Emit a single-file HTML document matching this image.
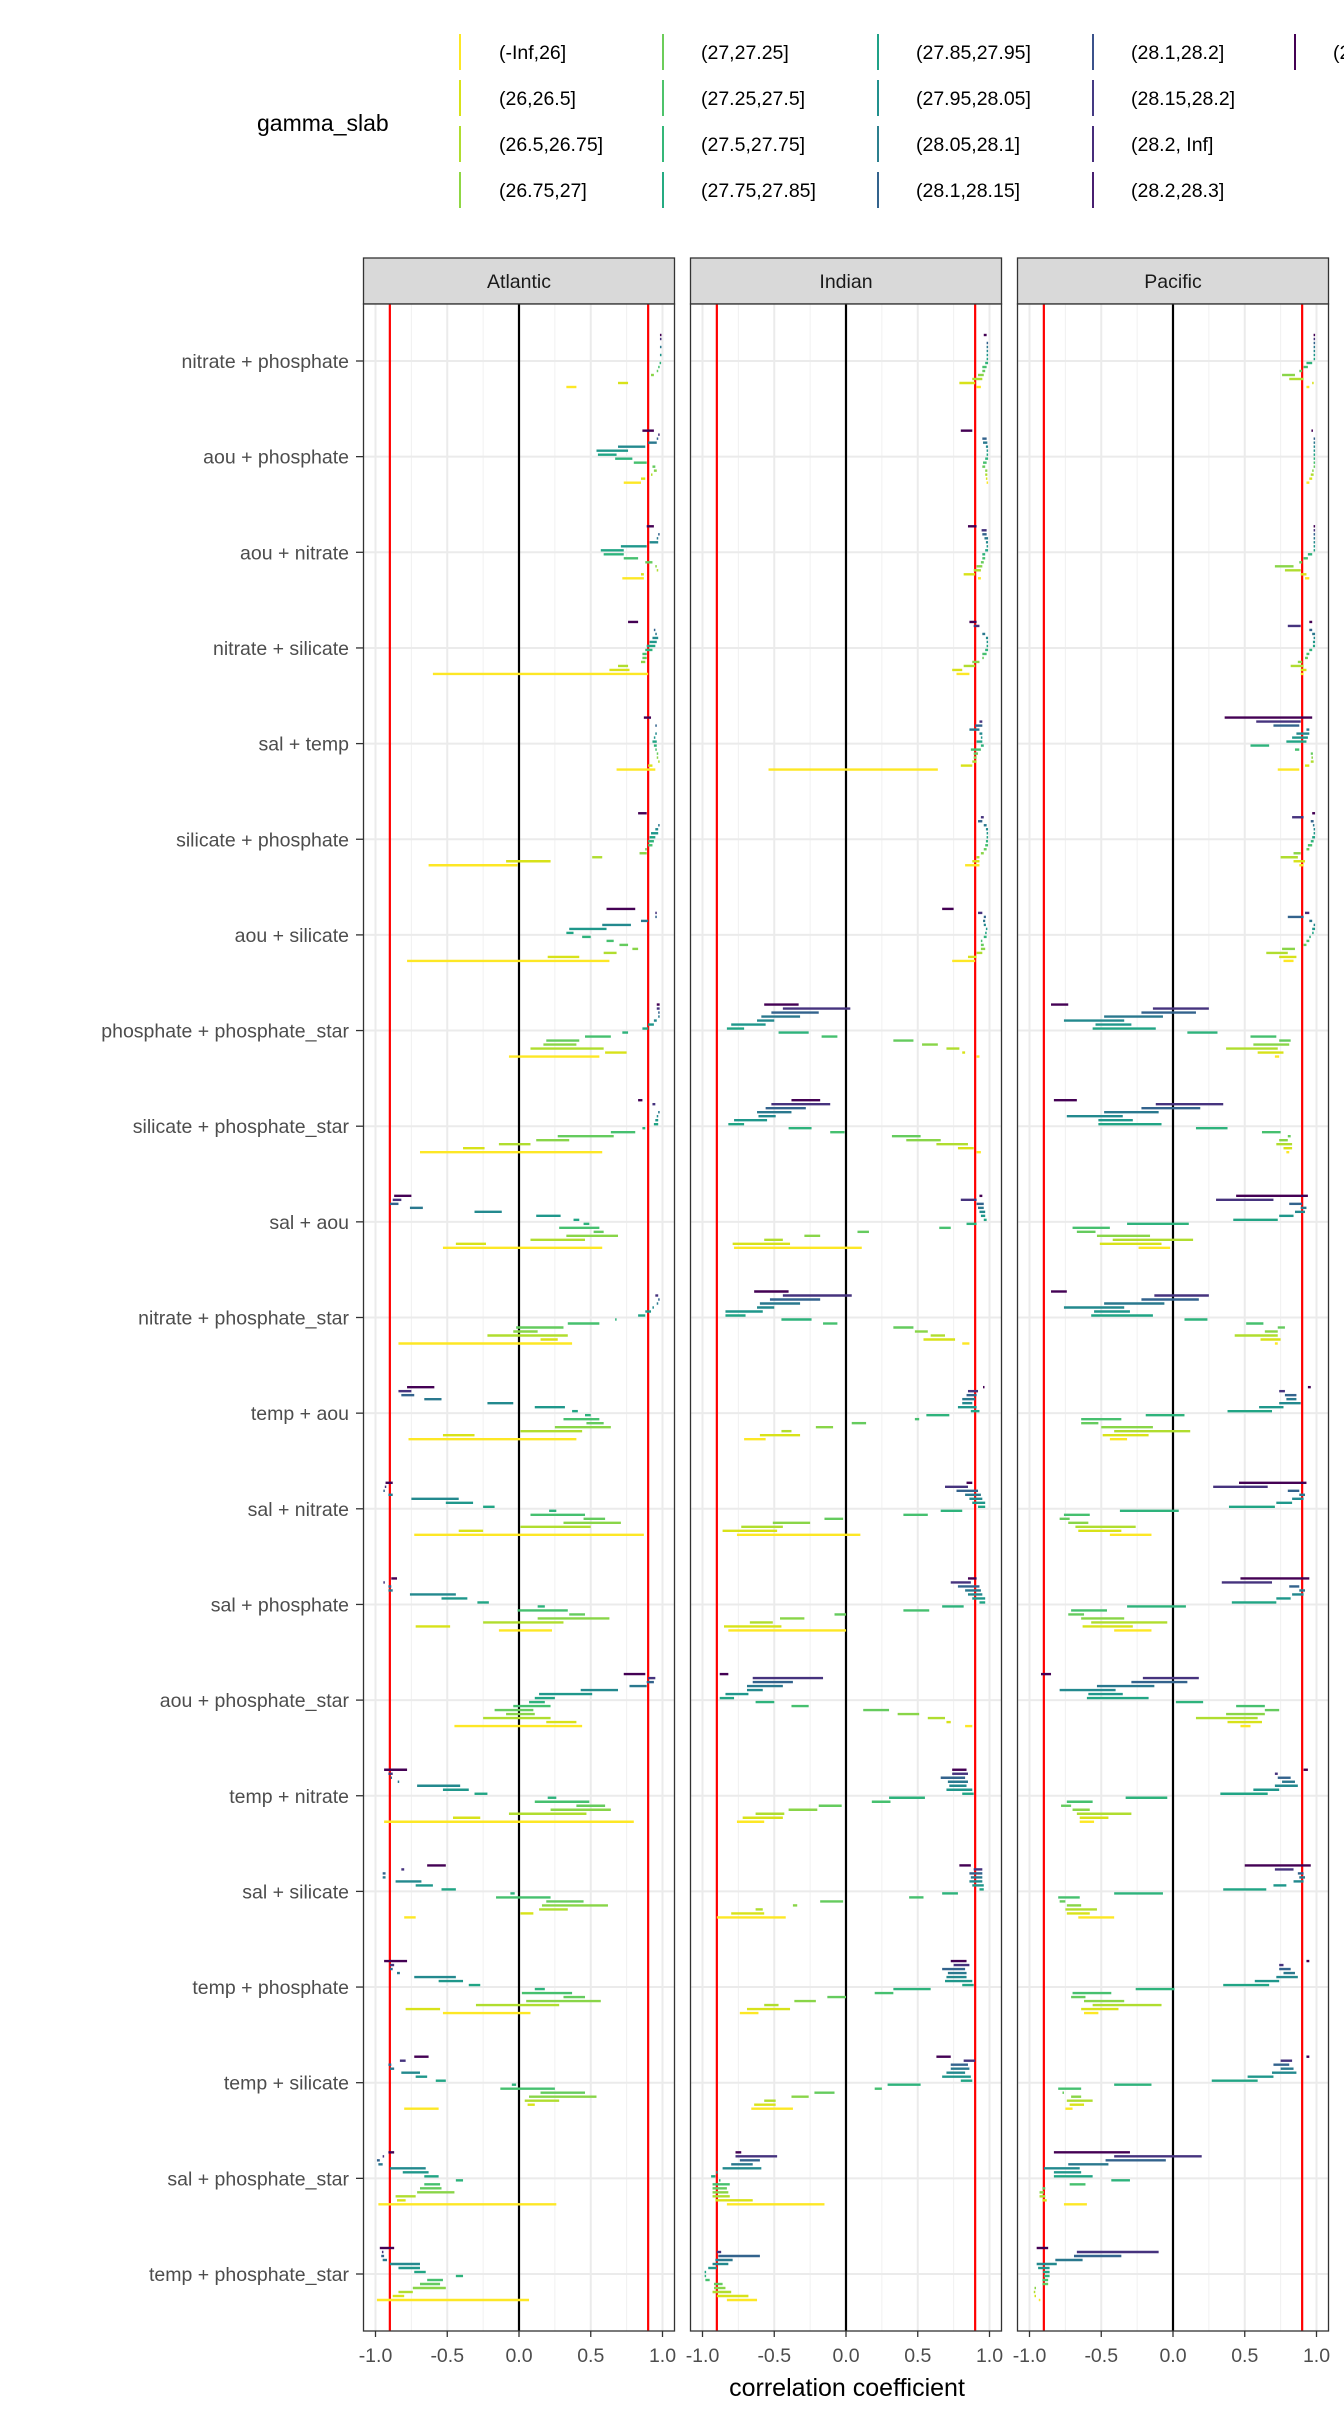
<!DOCTYPE html>
<html><head><meta charset="utf-8">
<style>
html,body{margin:0;padding:0;background:#fff;}
svg{display:block;font-family:"Liberation Sans",sans-serif;}
</style></head>
<body>
<svg id="chart" width="1344" height="2419" viewBox="0 0 1344 2419" xmlns="http://www.w3.org/2000/svg">
<g id="legend"></g>
<g id="panels"></g>
<g id="yaxis"></g>
<text x="847" y="2396" font-size="25" text-anchor="middle" fill="#000">correlation coefficient</text>
</svg>
<script>
const rowLabels = ["nitrate + phosphate","aou + phosphate","aou + nitrate","nitrate + silicate","sal + temp","silicate + phosphate","aou + silicate","phosphate + phosphate_star","silicate + phosphate_star","sal + aou","nitrate + phosphate_star","temp + aou","sal + nitrate","sal + phosphate","aou + phosphate_star","temp + nitrate","sal + silicate","temp + phosphate","temp + silicate","sal + phosphate_star","temp + phosphate_star"];
const panelNames = ["Atlantic","Indian","Pacific"];
const xTicks = [-1.0,-0.5,0.0,0.5,1.0];
const xTickLabels = ["-1.0","-0.5","0.0","0.5","1.0"];
const xMinor = [-0.75,-0.25,0.25,0.75];
const refLines = [-0.9,0.9];
const legendLabels = ["(-Inf,26]","(26,26.5]","(26.5,26.75]","(26.75,27]","(27,27.25]","(27.25,27.5]","(27.5,27.75]","(27.75,27.85]","(27.85,27.95]","(27.95,28.05]","(28.05,28.1]","(28.1,28.15]","(28.1,28.2]","(28.15,28.2]","(28.2, Inf]","(28.2,28.3]","(28.3, Inf]"];
const legendColors = ["#FDE725","#D8E219","#B0DD2F","#8FD744","#6CCD5A","#4EC36B","#35B779","#25AB82","#1FA187","#21908D","#2C7F8E","#33638D","#3B528B","#443A83","#472D7B","#481F70","#440154"];
const slabColors = ["#FDE725","#D8E219","#B0DD2F","#89D548","#65CB5E","#46C06F","#2EB37C","#21A585","#1F978B","#23898E","#2A788E","#33638D","#46337E","#440154"];

const atlantic = [
[[0,0.33,0.40],[1,0.69,0.76],[3,0.92,0.94],[4,0.96,0.97],[5,0.97,0.98],[6,0.98,0.99],[8,0.985,0.99],[10,0.985,0.99],[12,0.985,0.99],[13,0.985,0.99]],
[[0,0.73,0.85],[1,0.85,0.88],[2,0.92,0.93],[3,0.94,0.96],[4,0.93,0.95],[5,0.80,0.89],[6,0.67,0.79],[7,0.55,0.68],[8,0.54,0.76],[9,0.69,0.88],[10,0.90,0.96],[11,0.96,0.97],[12,0.97,0.98],[13,0.86,0.94]],
[[0,0.72,0.87],[1,0.85,0.87],[2,0.96,0.97],[3,0.95,0.96],[4,0.88,0.93],[5,0.73,0.83],[6,0.59,0.73],[7,0.57,0.73],[8,0.71,0.89],[9,0.91,0.97],[10,0.96,0.97],[11,0.97,0.98],[13,0.89,0.94]],
[[0,-0.60,0.90],[1,0.63,0.77],[2,0.69,0.76],[3,0.85,0.88],[4,0.86,0.89],[5,0.86,0.89],[6,0.88,0.93],[7,0.89,0.95],[8,0.91,0.96],[9,0.93,0.97],[10,0.95,0.96],[11,0.94,0.95],[13,0.76,0.83]],
[[0,0.68,0.95],[1,0.90,0.93],[2,0.97,0.98],[3,0.96,0.97],[4,0.96,0.97],[5,0.95,0.96],[6,0.94,0.96],[7,0.93,0.96],[8,0.94,0.95],[9,0.95,0.96],[11,0.95,0.96],[13,0.87,0.92]],
[[0,-0.63,-0.01],[1,-0.09,0.22],[2,0.51,0.58],[3,0.84,0.89],[4,0.88,0.89],[5,0.90,0.93],[6,0.90,0.94],[7,0.91,0.95],[8,0.92,0.97],[9,0.95,0.97],[10,0.97,0.98],[13,0.83,0.89]],
[[0,-0.78,0.63],[1,0.20,0.42],[2,0.59,0.68],[3,0.79,0.83],[4,0.70,0.76],[5,0.61,0.66],[6,0.44,0.50],[7,0.33,0.38],[8,0.35,0.61],[9,0.58,0.78],[10,0.85,0.90],[11,0.95,0.96],[12,0.95,0.96],[13,0.61,0.81]],
[[0,-0.07,0.56],[1,0.60,0.75],[2,0.08,0.59],[3,0.17,0.40],[4,0.19,0.42],[5,0.46,0.64],[6,0.72,0.76],[7,0.86,0.90],[8,0.90,0.94],[9,0.94,0.96],[10,0.97,0.98],[11,0.97,0.98],[12,0.96,0.98],[13,0.96,0.98]],
[[0,-0.69,0.58],[1,-0.39,-0.24],[2,-0.14,0.08],[3,0.12,0.35],[4,0.27,0.66],[5,0.64,0.81],[6,0.86,0.88],[7,0.94,0.97],[8,0.95,0.97],[9,0.96,0.97],[10,0.97,0.98],[12,0.93,0.95],[13,0.83,0.86]],
[[0,-0.53,0.58],[1,-0.44,-0.23],[2,0.08,0.46],[3,0.33,0.69],[4,0.52,0.59],[5,0.28,0.56],[6,0.45,0.49],[7,0.38,0.42],[8,0.12,0.29],[9,-0.31,-0.12],[10,-0.76,-0.67],[11,-0.90,-0.84],[12,-0.88,-0.82],[13,-0.87,-0.75]],
[[0,-0.84,0.37],[1,0.15,0.27],[2,-0.22,0.34],[3,-0.04,0.13],[4,-0.02,0.31],[5,0.34,0.56],[6,0.67,0.68],[7,0.83,0.88],[8,0.88,0.92],[9,0.93,0.94],[10,0.96,0.97],[11,0.97,0.98],[12,0.95,0.97]],
[[0,-0.77,0.40],[1,-0.53,-0.31],[2,0.01,0.44],[3,0.25,0.64],[4,0.47,0.59],[5,0.31,0.56],[6,0.46,0.50],[7,0.37,0.41],[8,0.11,0.32],[9,-0.22,-0.04],[10,-0.66,-0.54],[11,-0.82,-0.73],[12,-0.84,-0.75],[13,-0.78,-0.59]],
[[0,-0.73,0.87],[1,-0.42,-0.25],[2,0.01,0.50],[3,0.31,0.71],[4,0.45,0.60],[5,0.08,0.46],[6,0.21,0.26],[7,-0.25,-0.17],[8,-0.51,-0.32],[9,-0.75,-0.42],[10,-0.91,-0.88],[11,-0.945,-0.935],[12,-0.935,-0.925],[13,-0.93,-0.88]],
[[0,-0.14,0.23],[1,-0.72,-0.48],[2,-0.25,0.31],[3,0.13,0.63],[4,0.35,0.46],[5,-0.01,0.34],[6,0.13,0.18],[7,-0.29,-0.21],[8,-0.54,-0.36],[9,-0.76,-0.44],[10,-0.91,-0.88],[11,-0.91,-0.89],[12,-0.945,-0.935],[13,-0.89,-0.85]],
[[0,-0.45,0.44],[1,0.19,0.40],[2,-0.25,0.22],[3,-0.09,0.11],[4,-0.17,0.10],[5,-0.04,0.22],[6,0.07,0.18],[7,0.11,0.25],[8,0.14,0.51],[9,0.43,0.69],[10,0.77,0.89],[11,0.89,0.94],[12,0.90,0.95],[13,0.73,0.88]],
[[0,-0.94,0.80],[1,-0.46,-0.27],[2,-0.07,0.47],[3,0.22,0.64],[4,0.40,0.60],[5,0.11,0.49],[6,0.20,0.26],[7,-0.31,-0.22],[8,-0.53,-0.35],[9,-0.71,-0.41],[10,-0.845,-0.835],[11,-0.895,-0.885],[12,-0.91,-0.88],[13,-0.94,-0.78]],
[[0,-0.80,-0.72],[1,0.01,0.10],[2,0.14,0.34],[3,0.16,0.62],[4,0.19,0.45],[5,-0.16,0.22],[6,-0.06,-0.03],[7,-0.54,-0.44],[8,-0.72,-0.60],[9,-0.86,-0.68],[10,-0.95,-0.93],[11,-0.95,-0.93],[12,-0.82,-0.80],[13,-0.64,-0.51]],
[[0,-0.53,0.08],[1,-0.79,-0.55],[2,-0.30,0.28],[3,0.05,0.57],[4,0.31,0.46],[5,0.02,0.37],[6,0.11,0.18],[7,-0.35,-0.27],[8,-0.56,-0.39],[9,-0.73,-0.44],[10,-0.85,-0.83],[11,-0.90,-0.88],[12,-0.90,-0.87],[13,-0.94,-0.78]],
[[0,-0.80,-0.56],[1,0.06,0.11],[2,0.04,0.28],[3,0.07,0.54],[4,0.15,0.46],[5,-0.13,0.25],[6,-0.05,-0.02],[7,-0.58,-0.51],[8,-0.72,-0.64],[9,-0.82,-0.69],[10,-0.90,-0.87],[11,-0.91,-0.89],[12,-0.83,-0.79],[13,-0.73,-0.63]],
[[0,-0.98,0.26],[1,-0.85,-0.79],[2,-0.86,-0.72],[3,-0.71,-0.45],[4,-0.69,-0.54],[5,-0.66,-0.55],[6,-0.44,-0.39],[7,-0.66,-0.56],[8,-0.81,-0.63],[9,-0.90,-0.65],[10,-0.98,-0.95],[11,-0.99,-0.97],[12,-0.95,-0.94],[13,-0.91,-0.87]],
[[0,-0.99,0.07],[1,-0.88,-0.80],[2,-0.84,-0.74],[3,-0.74,-0.51],[4,-0.69,-0.55],[5,-0.64,-0.53],[6,-0.44,-0.39],[7,-0.73,-0.65],[8,-0.84,-0.69],[9,-0.90,-0.69],[10,-0.95,-0.92],[11,-0.96,-0.94],[12,-0.955,-0.945],[13,-0.97,-0.87]]
];

const indian = [
[[0,0.91,0.94],[1,0.79,0.90],[2,0.88,0.95],[3,0.92,0.96],[4,0.95,0.97],[5,0.95,0.98],[6,0.97,0.99],[7,0.98,0.99],[8,0.98,0.99],[9,0.98,0.99],[10,0.98,0.99],[11,0.98,0.99],[13,0.96,0.98]],
[[0,0.98,0.99],[1,0.975,0.985],[2,0.97,0.985],[3,0.97,0.985],[4,0.95,0.97],[5,0.955,0.98],[6,0.97,0.99],[7,0.98,0.99],[8,0.98,0.99],[9,0.975,0.99],[10,0.955,0.985],[11,0.95,0.98],[13,0.80,0.88]],
[[0,0.92,0.94],[1,0.82,0.90],[2,0.89,0.94],[3,0.91,0.95],[4,0.94,0.96],[5,0.95,0.97],[6,0.95,0.97],[7,0.97,0.99],[8,0.98,0.99],[9,0.975,0.99],[10,0.965,0.99],[11,0.95,0.98],[12,0.945,0.98],[13,0.85,0.91]],
[[0,0.77,0.86],[1,0.74,0.81],[2,0.82,0.90],[3,0.88,0.93],[4,0.95,0.96],[5,0.95,0.98],[6,0.97,0.99],[7,0.98,0.99],[8,0.98,0.99],[9,0.975,0.99],[10,0.95,0.97],[12,0.89,0.93],[13,0.86,0.91]],
[[0,-0.54,0.64],[1,0.80,0.88],[2,0.88,0.91],[3,0.89,0.91],[4,0.89,0.92],[5,0.87,0.94],[6,0.94,0.96],[7,0.91,0.95],[8,0.94,0.95],[9,0.93,0.95],[10,0.86,0.93],[11,0.90,0.95],[12,0.93,0.95]],
[[0,0.83,0.93],[1,0.88,0.93],[2,0.91,0.93],[3,0.94,0.96],[4,0.96,0.98],[5,0.97,0.99],[6,0.975,0.99],[7,0.98,0.99],[8,0.98,0.99],[9,0.975,0.99],[10,0.96,0.98],[11,0.92,0.95],[12,0.94,0.96]],
[[0,0.74,0.90],[1,0.85,0.91],[2,0.91,0.95],[3,0.94,0.97],[4,0.94,0.96],[5,0.94,0.95],[6,0.96,0.98],[7,0.97,0.98],[8,0.975,0.985],[9,0.96,0.975],[10,0.955,0.97],[11,0.96,0.975],[12,0.92,0.95],[13,0.67,0.75]],
[[0,0.91,0.93],[1,0.81,0.83],[2,0.70,0.79],[3,0.53,0.64],[4,0.33,0.47],[5,-0.17,-0.06],[6,-0.47,-0.26],[7,-0.83,-0.71],[8,-0.80,-0.56],[9,-0.62,-0.50],[10,-0.59,-0.32],[11,-0.52,-0.19],[12,-0.44,0.03],[13,-0.57,-0.33]],
[[0,0.91,0.94],[1,0.78,0.89],[2,0.63,0.85],[3,0.42,0.66],[4,0.32,0.52],[5,-0.11,-0.01],[6,-0.40,-0.24],[7,-0.82,-0.71],[8,-0.78,-0.55],[9,-0.61,-0.49],[10,-0.62,-0.38],[11,-0.56,-0.28],[12,-0.52,-0.11],[13,-0.38,-0.18]],
[[0,-0.78,0.11],[1,-0.79,-0.39],[2,-0.57,-0.44],[3,-0.29,-0.18],[4,0.08,0.16],[5,0.65,0.73],[6,0.84,0.91],[7,0.96,0.98],[8,0.94,0.97],[9,0.93,0.97],[10,0.92,0.96],[11,0.91,0.96],[12,0.80,0.91],[13,0.93,0.95]],
[[0,0.81,0.86],[1,0.54,0.76],[2,0.59,0.69],[3,0.48,0.57],[4,0.33,0.47],[5,-0.16,-0.06],[6,-0.45,-0.24],[7,-0.84,-0.70],[8,-0.84,-0.58],[9,-0.62,-0.50],[10,-0.60,-0.32],[11,-0.53,-0.18],[12,-0.44,0.04],[13,-0.64,-0.40]],
[[0,-0.71,-0.56],[1,-0.60,-0.32],[2,-0.45,-0.38],[3,-0.21,-0.09],[4,0.04,0.14],[5,0.48,0.51],[6,0.56,0.72],[7,0.87,0.93],[8,0.78,0.91],[9,0.81,0.88],[10,0.81,0.90],[11,0.84,0.91],[12,0.85,0.92],[13,0.955,0.965]],
[[0,-0.76,0.10],[1,-0.86,-0.48],[2,-0.73,-0.44],[3,-0.51,-0.25],[4,-0.15,-0.02],[5,0.40,0.57],[6,0.66,0.81],[7,0.92,0.97],[8,0.88,0.97],[9,0.86,0.95],[10,0.83,0.94],[11,0.77,0.92],[12,0.69,0.85],[13,0.84,0.88]],
[[0,-0.82,0.0],[1,-0.85,-0.45],[2,-0.67,-0.51],[3,-0.46,-0.29],[4,-0.08,0.0],[5,0.40,0.58],[6,0.67,0.82],[7,0.93,0.97],[8,0.88,0.97],[9,0.85,0.95],[10,0.83,0.94],[11,0.78,0.93],[12,0.73,0.87],[13,0.85,0.91]],
[[0,0.83,0.88],[1,0.70,0.73],[2,0.57,0.69],[3,0.36,0.51],[4,0.12,0.30],[5,-0.38,-0.26],[6,-0.63,-0.50],[7,-0.88,-0.78],[8,-0.84,-0.68],[9,-0.69,-0.58],[10,-0.69,-0.44],[11,-0.65,-0.37],[12,-0.65,-0.16],[13,-0.88,-0.82]],
[[0,-0.76,-0.57],[1,-0.72,-0.44],[2,-0.63,-0.43],[3,-0.40,-0.20],[4,-0.19,-0.03],[5,0.18,0.31],[6,0.30,0.55],[7,0.81,0.89],[8,0.70,0.88],[9,0.72,0.84],[10,0.71,0.85],[11,0.66,0.83],[12,0.74,0.85],[13,0.74,0.84]],
[[0,-0.90,-0.42],[1,-0.80,-0.57],[2,-0.63,-0.58],[3,-0.37,-0.34],[4,-0.18,-0.02],[5,0.44,0.54],[6,0.67,0.78],[7,0.93,0.96],[8,0.88,0.96],[9,0.86,0.95],[10,0.87,0.95],[11,0.86,0.95],[12,0.89,0.95],[13,0.79,0.87]],
[[0,-0.74,-0.61],[1,-0.69,-0.39],[2,-0.57,-0.47],[3,-0.36,-0.21],[4,-0.13,0.0],[5,0.20,0.33],[6,0.33,0.59],[7,0.81,0.89],[8,0.69,0.88],[9,0.70,0.84],[10,0.71,0.84],[11,0.67,0.83],[12,0.75,0.86],[13,0.73,0.84]],
[[0,-0.66,-0.37],[1,-0.64,-0.49],[2,-0.57,-0.49],[3,-0.38,-0.26],[4,-0.22,-0.08],[5,0.20,0.25],[6,0.29,0.52],[7,0.80,0.88],[8,0.67,0.87],[9,0.70,0.83],[10,0.73,0.86],[11,0.73,0.85],[12,0.82,0.90],[13,0.63,0.73]],
[[0,-0.83,-0.15],[1,-0.91,-0.65],[2,-0.93,-0.81],[3,-0.93,-0.82],[4,-0.93,-0.83],[5,-0.93,-0.81],[6,-0.885,-0.875],[7,-0.94,-0.91],[8,-0.905,-0.895],[9,-0.86,-0.59],[10,-0.80,-0.65],[11,-0.74,-0.60],[12,-0.77,-0.48],[13,-0.77,-0.73]],
[[0,-0.83,-0.62],[1,-0.90,-0.68],[2,-0.93,-0.80],[3,-0.92,-0.84],[4,-0.92,-0.86],[5,-0.98,-0.95],[6,-0.985,-0.975],[7,-0.985,-0.975],[8,-0.96,-0.90],[9,-0.93,-0.82],[10,-0.91,-0.79],[11,-0.89,-0.60],[12,-0.90,-0.87]]
];

const pacific = [
[[0,0.93,0.95],[1,0.97,0.98],[2,0.81,0.91],[3,0.76,0.85],[4,0.88,0.90],[5,0.91,0.94],[6,0.93,0.97],[7,0.98,0.99],[8,0.98,0.99],[9,0.98,0.99],[10,0.98,0.99],[11,0.98,0.99],[12,0.98,0.99],[13,0.98,0.99]],
[[0,0.93,0.95],[1,0.95,0.97],[2,0.96,0.98],[3,0.97,0.98],[4,0.98,0.99],[5,0.98,0.99],[6,0.98,0.99],[7,0.98,0.99],[8,0.98,0.99],[9,0.98,0.99],[10,0.98,0.99],[11,0.98,0.99],[13,0.965,0.975]],
[[0,0.92,0.95],[1,0.89,0.93],[2,0.78,0.89],[3,0.71,0.84],[4,0.88,0.90],[5,0.91,0.94],[6,0.94,0.97],[7,0.98,0.99],[8,0.98,0.99],[9,0.98,0.99],[10,0.98,0.99],[11,0.98,0.99],[12,0.98,0.99],[13,0.98,0.99]],
[[0,0.89,0.91],[1,0.89,0.93],[2,0.82,0.91],[3,0.87,0.90],[4,0.92,0.94],[5,0.93,0.95],[6,0.95,0.97],[7,0.975,0.99],[8,0.975,0.99],[9,0.98,0.99],[10,0.97,0.99],[11,0.95,0.97],[12,0.80,0.89],[13,0.95,0.97]],
[[0,0.73,0.88],[1,0.92,0.95],[2,0.96,0.98],[3,0.965,0.975],[4,0.96,0.975],[5,0.85,0.88],[6,0.54,0.67],[7,0.79,0.93],[8,0.83,0.94],[9,0.86,0.95],[10,0.93,0.95],[11,0.70,0.88],[12,0.58,0.89],[13,0.36,0.97]],
[[0,0.88,0.91],[1,0.84,0.92],[2,0.75,0.87],[3,0.84,0.89],[4,0.93,0.95],[5,0.94,0.97],[6,0.96,0.98],[7,0.97,0.99],[8,0.98,0.99],[9,0.98,0.99],[10,0.975,0.985],[11,0.96,0.98],[12,0.83,0.91],[13,0.97,0.99]],
[[0,0.77,0.84],[1,0.74,0.86],[2,0.65,0.80],[3,0.76,0.85],[4,0.91,0.93],[5,0.93,0.95],[6,0.95,0.96],[7,0.97,0.98],[8,0.97,0.99],[9,0.98,0.99],[10,0.95,0.97],[11,0.80,0.91],[12,0.92,0.95]],
[[0,0.71,0.74],[1,0.59,0.77],[2,0.37,0.73],[3,0.56,0.81],[4,0.74,0.82],[5,0.54,0.72],[6,0.10,0.31],[7,-0.56,-0.12],[8,-0.54,-0.29],[9,-0.76,-0.34],[10,-0.48,-0.07],[11,-0.22,0.16],[12,-0.14,0.25],[13,-0.85,-0.73]],
[[0,0.79,0.81],[1,0.77,0.83],[2,0.72,0.83],[3,0.74,0.80],[4,0.80,0.82],[5,0.62,0.75],[6,0.16,0.38],[7,-0.52,-0.08],[8,-0.52,-0.28],[9,-0.74,-0.35],[10,-0.48,-0.10],[11,-0.22,0.19],[12,-0.12,0.35],[13,-0.83,-0.67]],
[[0,-0.24,-0.02],[1,-0.51,-0.08],[2,-0.42,0.14],[3,-0.53,-0.16],[4,-0.67,-0.54],[5,-0.70,-0.44],[6,-0.32,0.11],[7,0.42,0.73],[8,0.74,0.84],[9,0.85,0.92],[10,0.89,0.93],[11,0.81,0.90],[12,0.30,0.70],[13,0.44,0.94]],
[[0,0.71,0.73],[1,0.61,0.75],[2,0.43,0.73],[3,0.64,0.73],[4,0.73,0.78],[5,0.51,0.63],[6,0.08,0.24],[7,-0.57,-0.14],[8,-0.55,-0.30],[9,-0.76,-0.34],[10,-0.48,-0.06],[11,-0.22,0.18],[12,-0.13,0.25],[13,-0.85,-0.74]],
[[0,-0.44,-0.32],[1,-0.49,-0.17],[2,-0.41,0.12],[3,-0.50,-0.14],[4,-0.64,-0.52],[5,-0.64,-0.36],[6,-0.19,0.08],[7,0.38,0.69],[8,0.60,0.77],[9,0.74,0.89],[10,0.79,0.86],[11,0.78,0.86],[12,0.74,0.78],[13,0.94,0.96]],
[[0,-0.44,-0.15],[1,-0.66,-0.36],[2,-0.68,-0.26],[3,-0.73,-0.59],[4,-0.79,-0.72],[5,-0.76,-0.58],[6,-0.37,0.04],[7,0.39,0.71],[8,0.72,0.83],[9,0.83,0.91],[10,0.88,0.92],[11,0.80,0.88],[12,0.28,0.66],[13,0.46,0.93]],
[[0,-0.41,-0.15],[1,-0.63,-0.28],[2,-0.57,-0.04],[3,-0.64,-0.34],[4,-0.73,-0.62],[5,-0.71,-0.46],[6,-0.32,0.09],[7,0.41,0.72],[8,0.72,0.82],[9,0.83,0.91],[10,0.88,0.92],[11,0.81,0.88],[12,0.34,0.69],[13,0.47,0.95]],
[[0,0.47,0.54],[1,0.38,0.62],[2,0.16,0.59],[3,0.37,0.64],[4,0.64,0.74],[5,0.44,0.64],[6,0.02,0.21],[7,-0.60,-0.17],[8,-0.59,-0.35],[9,-0.79,-0.40],[10,-0.53,-0.13],[11,-0.29,0.10],[12,-0.21,0.18],[13,-0.92,-0.85]],
[[0,-0.65,-0.55],[1,-0.65,-0.45],[2,-0.67,-0.29],[3,-0.70,-0.58],[4,-0.78,-0.71],[5,-0.74,-0.56],[6,-0.33,-0.04],[7,0.33,0.66],[8,0.56,0.74],[9,0.71,0.87],[10,0.76,0.85],[11,0.73,0.82],[12,0.71,0.73],[13,0.91,0.94]],
[[0,-0.66,-0.41],[1,-0.74,-0.58],[2,-0.75,-0.53],[3,-0.74,-0.64],[4,-0.79,-0.75],[5,-0.80,-0.65],[6,-0.41,-0.07],[7,0.35,0.65],[8,0.70,0.79],[9,0.84,0.91],[10,0.88,0.92],[11,0.87,0.91],[12,0.71,0.84],[13,0.50,0.96]],
[[0,-0.62,-0.52],[1,-0.64,-0.38],[2,-0.56,-0.08],[3,-0.62,-0.34],[4,-0.71,-0.61],[5,-0.70,-0.43],[6,-0.26,0.01],[7,0.35,0.67],[8,0.57,0.74],[9,0.72,0.87],[10,0.77,0.85],[11,0.74,0.82],[12,0.74,0.77],[13,0.93,0.95]],
[[0,-0.75,-0.70],[1,-0.72,-0.62],[2,-0.74,-0.56],[3,-0.71,-0.64],[4,-0.77,-0.76],[5,-0.80,-0.64],[6,-0.41,-0.15],[7,0.27,0.59],[8,0.52,0.70],[9,0.69,0.86],[10,0.75,0.84],[11,0.70,0.81],[12,0.75,0.83],[13,0.93,0.95]],
[[0,-0.76,-0.60],[1,-0.91,-0.88],[2,-0.93,-0.89],[3,-0.93,-0.90],[4,-0.91,-0.89],[5,-0.72,-0.61],[6,-0.43,-0.30],[7,-0.83,-0.56],[8,-0.83,-0.64],[9,-0.90,-0.65],[10,-0.73,-0.45],[11,-0.47,-0.05],[12,-0.41,0.20],[13,-0.83,-0.30]],
[[0,-0.935,-0.925],[1,-0.965,-0.955],[2,-0.97,-0.96],[3,-0.965,-0.955],[4,-0.91,-0.87],[5,-0.91,-0.87],[6,-0.90,-0.86],[7,-0.905,-0.86],[8,-0.94,-0.86],[9,-0.95,-0.81],[10,-0.82,-0.63],[11,-0.69,-0.36],[12,-0.67,-0.10],[13,-0.95,-0.87]]
];
const panelData = [atlantic, indian, pacific];

const NS = "http://www.w3.org/2000/svg";
const plotTop = 304, plotBottom = 2331, rowStep = 95.65, firstRow = 361;
const panelLeft = [363.5, 690.5, 1017.5], panelW = 311, unit = 143.5;
function xScale(p, v){ return panelLeft[p] + panelW/2 + v*unit; }
function yScale(r){ return firstRow + r*rowStep; }
function slabOffset(k){ return 26 - k*4; }
function mk(tag, attrs, parent){
  const e = document.createElementNS(NS, tag);
  for (const a in attrs) e.setAttribute(a, attrs[a]);
  parent.appendChild(e); return e;
}

// legend
const lg = document.getElementById('legend');
const t0 = mk('text',{x:257,y:131,'font-size':23,fill:'#000'},lg);
t0.textContent = 'gamma_slab';


const colKeyX = [460, 663, 878, 1093, 1295];
const colTextX = [499, 701, 916, 1131, 1333];
const rowYs = [52, 98, 144, 190];
legendLabels.forEach((lab,i)=>{
  const c = Math.floor(i/4), r = i%4;
  if (c > 4) return;
  const g = mk('g',{},lg);
  
  
  mk('line',{x1:colKeyX[c],x2:colKeyX[c],y1:rowYs[r]-18,y2:rowYs[r]+18,stroke:legendColors[i],'stroke-width':2},g);
  const tx = mk('text',{x:colTextX[c],y:rowYs[r]+7,'font-size':19.5,fill:'#000'},g);
  tx.textContent = lab;
});

// panels
const pg = document.getElementById('panels');
panelNames.forEach((nm,p)=>{
  const L = panelLeft[p];
  const g = mk('g',{},pg);
  
  
  const strip = mk('rect',{x:L,y:258,width:panelW,height:46,fill:'#D9D9D9',stroke:'#333',"stroke-width":1.3},g);
  
  
  const st = mk('text',{x:L+panelW/2,y:288,'font-size':19.5,'text-anchor':'middle',fill:'#1A1A1A'},g);
  st.textContent = nm;
  mk('rect',{x:L,y:plotTop,width:panelW,height:plotBottom-plotTop,fill:'#fff'},g);
  xMinor.forEach(v=>mk('line',{x1:xScale(p,v),x2:xScale(p,v),y1:plotTop,y2:plotBottom,stroke:'#F0F0F0','stroke-width':1},g));
  xTicks.forEach(v=>mk('line',{x1:xScale(p,v),x2:xScale(p,v),y1:plotTop,y2:plotBottom,stroke:'#EBEBEB','stroke-width':2},g));
  rowLabels.forEach((_,r)=>mk('line',{x1:L,x2:L+panelW,y1:yScale(r),y2:yScale(r),stroke:'#EBEBEB','stroke-width':2},g));
  const zl = mk('line',{x1:xScale(p,0),x2:xScale(p,0),y1:plotTop,y2:plotBottom,stroke:'#000','stroke-width':2.2},g);
  
  
  refLines.forEach(v=>{
    const rl = mk('line',{x1:xScale(p,v),x2:xScale(p,v),y1:plotTop,y2:plotBottom,stroke:'#FF0000','stroke-width':2.2},g);
    
    
  });
  panelData[p].forEach((segs,r)=>{
    segs.forEach(s=>{
      const y = yScale(r) + slabOffset(s[0]);
      let x1 = xScale(p,s[1]), x2 = xScale(p,s[2]);
      if (x2 - x1 < 1.5) { const m=(x1+x2)/2; x1=m-0.75; x2=m+0.75; }
      const ln = mk('line',{x1:x1,x2:x2,y1:y,y2:y,stroke:slabColors[s[0]],'stroke-width':2.4},g);
      
      
    });
  });
  mk('rect',{x:L,y:plotTop,width:panelW,height:plotBottom-plotTop,fill:'none',stroke:'#333','stroke-width':1.3},g);
  xTicks.forEach((v,i)=>{
    mk('line',{x1:xScale(p,v),x2:xScale(p,v),y1:plotBottom,y2:plotBottom+6,stroke:'#333','stroke-width':1.3},g);
    const tl = mk('text',{x:xScale(p,v),y:2362,'font-size':19.5,'text-anchor':'middle',fill:'#4D4D4D'},g);
    tl.textContent = xTickLabels[i];
    
    
  });
});

// y axis
const ya = document.getElementById('yaxis');
rowLabels.forEach((lab,r)=>{
  mk('line',{x1:356,x2:363.5,y1:yScale(r),y2:yScale(r),stroke:'#333','stroke-width':1.3},ya);
  const t = mk('text',{x:349,y:yScale(r)+7,'font-size':19.5,'text-anchor':'end',fill:'#4D4D4D'},ya);
  t.textContent = lab;
  
  
});
</script>
</body></html>
